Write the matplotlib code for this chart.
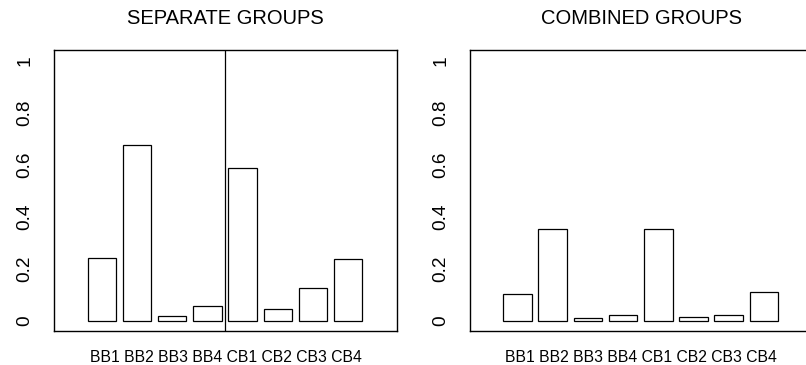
import numpy as np
import matplotlib
matplotlib.use("Agg")
import matplotlib.pyplot as plt

plt.rcParams["font.family"] = ["Liberation Sans", "DejaVu Sans"]

# ── 数据 ──
groups = ["BB1", "BB2", "BB3", "BB4", "CB1", "CB2", "CB3", "CB4"]
separate_vals = [0.242, 0.675, 0.020, 0.056, 0.586, 0.046, 0.126, 0.238]
combined_vals = [0.102, 0.352, 0.011, 0.023, 0.355, 0.014, 0.025, 0.112]
y_ticks = [0, 0.2, 0.4, 0.6, 0.8, 1]
y_ticklabels = ["0", "0.2", "0.4", "0.6", "0.8", "1"]


def draw_panel(ax, values, title, split=False):
    x = np.arange(len(groups))
    ax.bar(x, values, width=0.81, color="white", edgecolor="black", linewidth=0.9)
    if split:
        # BB / CB 分隔线
        ax.axvline(3.5, color="black", linewidth=0.9)
    ax.set_xlim(-1.35, 8.377)
    ax.set_ylim(-0.04, 1.04)
    ax.set_xticks([])
    ax.set_yticks(y_ticks)
    ax.set_yticklabels(y_ticklabels, rotation=90, va="center", fontsize=13.7)
    ax.tick_params(axis="y", length=0, pad=15)
    for s in ax.spines.values():
        s.set_linewidth(1.0)
    ax.set_title(title, fontsize=14.5, pad=19)
    ax.set_xlabel(" ".join(groups), fontsize=11.3, labelpad=13)


fig = plt.figure(figsize=(8.06, 3.65), dpi=100)
ax1 = fig.add_axes([0.0674, 0.0918, 0.4248, 0.7712])
ax2 = fig.add_axes([0.5831, 0.0918, 0.4248, 0.7712])

draw_panel(ax1, separate_vals, "SEPARATE GROUPS", split=True)
draw_panel(ax2, combined_vals, "COMBINED GROUPS")

fig.savefig("out.png", dpi=100)
plt.close(fig)
